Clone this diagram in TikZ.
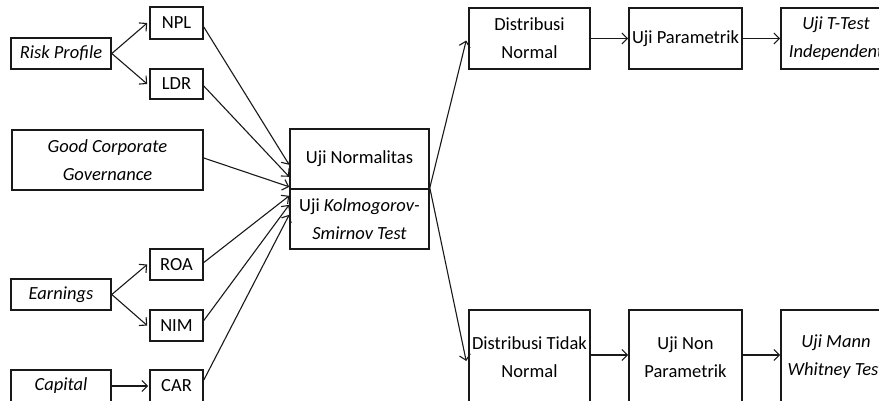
\documentclass[tikz,border=0pt]{standalone}
\usepackage{fontspec}
\setmainfont{Carlito}
\usetikzlibrary{arrows.meta,calc}
\begin{document}
\begin{tikzpicture}[x=1pt,y=-1pt,
  bx/.style={draw=black!90, line width=1.6pt, rectangle, inner sep=0pt, align=center,
    font=\fontsize{18.5}{28}\selectfont, text=black},
  arr/.style={draw=black!90, line width=1.1pt, -{Straight Barb[length=5.5pt,width=11pt,line width=1.1pt]}}]
\useasboundingbox (0,0) rectangle (879,400);
\clip (0,0) rectangle (879,400);
% left column
\node[bx, minimum width=100pt, minimum height=31pt] (rp) at (61,53.5) {\textit{Risk Profile}};
\node[bx, minimum width=191pt, minimum height=60pt] (gcg) at (107.5,160) {\textit{Good Corporate}\\\textit{Governance}};
\node[bx, minimum width=100pt, minimum height=31pt] (earn) at (61,294.5) {\textit{Earnings}};
\node[bx, minimum width=100pt, minimum height=32pt] (cap) at (61,386) {\textit{Capital}};
% indicators
\node[bx, minimum width=53pt, minimum height=32pt] (npl) at (176.5,23) {NPL};
\node[bx, minimum width=53pt, minimum height=30pt] (ldr) at (176.5,84) {LDR};
\node[bx, minimum width=53pt, minimum height=31pt] (roa) at (176.5,264.5) {ROA};
\node[bx, minimum width=53pt, minimum height=31pt] (nim) at (176.5,325.5) {NIM};
\node[bx, minimum width=53pt, minimum height=32pt] (car) at (176.5,386) {CAR};
% central
\node[bx, minimum width=139pt, minimum height=60pt] (un) at (359.5,159) {Uji Normalitas};
\node[bx, minimum width=139pt, minimum height=60pt] (ks) at (359.5,219) {Uji \textit{Kolmogorov-}\\\textit{Smirnov Test}};
% right
\node[bx, minimum width=121pt, minimum height=61pt] (dn) at (529.5,38.5) {Distribusi\\Normal};
\node[bx, minimum width=113pt, minimum height=61pt] (up) at (685.5,38.5) {Uji Parametrik};
\node[bx, minimum width=110pt, minimum height=61pt] (tt) at (836,38.5) {\textit{Uji T-Test}\\\textit{Independent}};
\node[bx, minimum width=121pt, minimum height=94pt] (dtn) at (529.5,357) {Distribusi Tidak\\Normal};
\node[bx, minimum width=113pt, minimum height=94pt] (unp) at (685.5,357) {Uji Non\\Parametrik};
\node[bx, minimum width=110pt, minimum height=94pt] (mw) at (836,357) {\textit{Uji Mann}\\\textit{Whitney Test}};
% arrows left
\draw[arr] (rp.east) -- ($(npl.west)+(-2,0)$);
\draw[arr] (rp.east) -- ($(ldr.west)+(-2,0)$);
\draw[arr] (earn.east) -- ($(roa.west)+(-2,0)$);
\draw[arr] (earn.east) -- ($(nim.west)+(-2,0)$);
\draw[arr] (cap.east) -- ($(car.west)+(-1,0)$);
% into central
\draw[arr] ($(npl.east)+(0,4)$) -- ($(un.south west)+(0,-25)$);
\draw[arr] ($(ldr.east)+(0,2)$) -- ($(un.south west)+(0,-13)$);
\draw[arr] ($(gcg.east)+(0,-2)$) -- ($(un.south west)+(0,-3)$);
\draw[arr] ($(roa.east)+(0,-2)$) -- ($(un.south west)+(0,6)$);
\draw[arr] ($(nim.east)+(0,-5)$) -- ($(un.south west)+(0,15)$);
\draw[arr] ($(car.east)+(0,-6)$) -- ($(un.south west)+(0,25)$);
% out of central
\draw[arr] ($(un.south east)+(0,-2)$) -- ($(dn.west)+(-2,2)$);
\draw[arr] ($(un.south east)+(0,-2)$) -- ($(dtn.west)+(-2,4)$);
% chains
\draw[arr] (dn.east) -- (up.west);
\draw[arr] (up.east) -- (tt.west);
\draw[arr] ($(dtn.east)+(0,-2)$) -- ($(unp.west)+(0,-2)$);
\draw[arr] ($(unp.east)+(0,-2)$) -- ($(mw.west)+(0,-2)$);
\end{tikzpicture}
\end{document}
